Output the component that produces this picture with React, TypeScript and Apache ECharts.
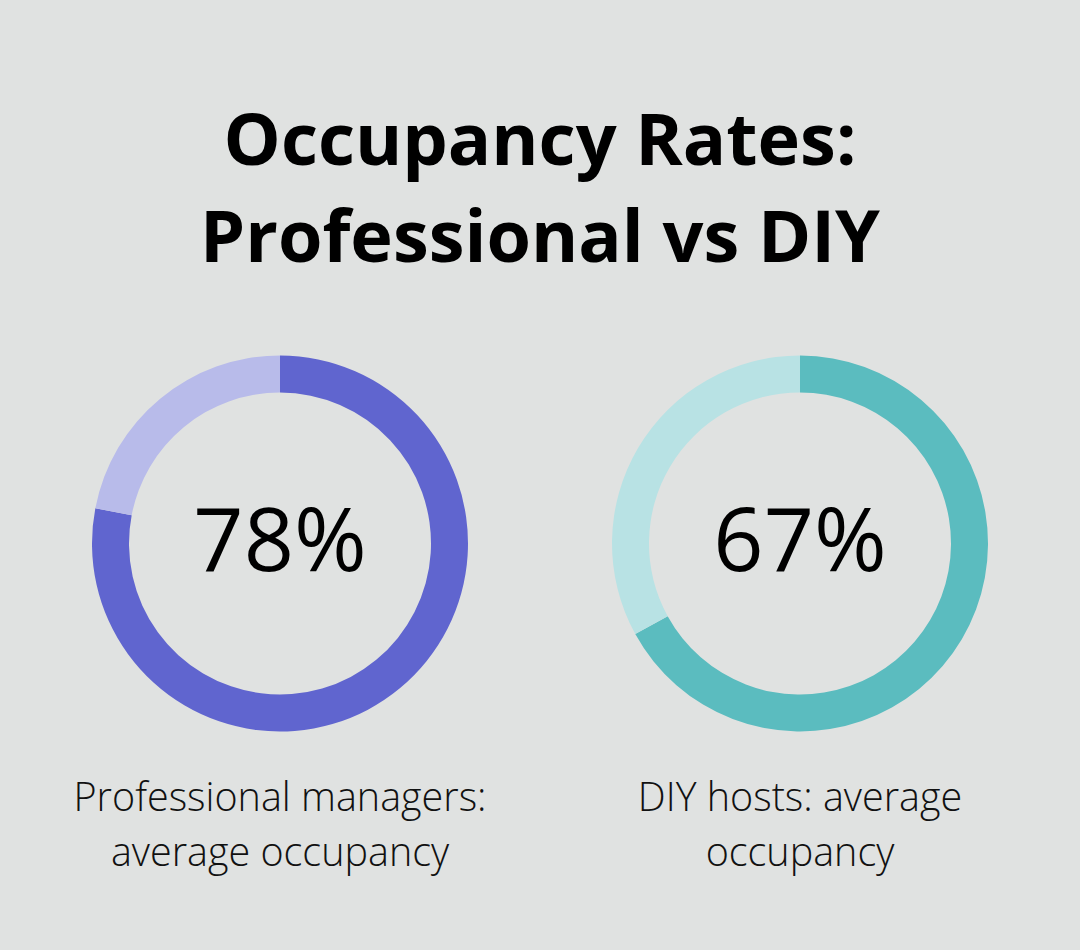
import React, { useEffect, useRef } from 'react';
import * as echarts from 'echarts';

const titleLines = ['Occupancy Rates:', 'Professional vs DIY'];
const groups = ['Professional managers', 'DIY hosts'];
const occupancy = [78, 67];
const captions = [
  ['Professional managers:', 'average occupancy'],
  ['DIY hosts: average', 'occupancy'],
];
const mainColors = ['#6065cf', '#5bbcbf'];
const restColors = ['#b8bbea', '#b8e2e4'];
const centersX = [280, 800];

const App: React.FC = () => {
  const chartRef = useRef<HTMLDivElement>(null);

  useEffect(() => {
    if (!chartRef.current) return;
    const chart = echarts.init(chartRef.current, undefined, { renderer: 'svg' });

    const textStyleBase = { fontFamily: 'Open Sans', fill: '#000', textAlign: 'center', textVerticalAlign: 'middle' };

    const graphic: any[] = [];
    titleLines.forEach((line, i) => {
      graphic.push({
        type: 'text',
        x: 540,
        y: 137 + i * 97,
        style: { ...textStyleBase, text: line, fontSize: 72, fontWeight: 'bold' },
      });
    });
    // big percentage in the middle of each ring
    occupancy.forEach((v, g) => {
      graphic.push({
        type: 'text',
        x: centersX[g],
        y: 537,
        style: { ...textStyleBase, text: `${v}%`, fontSize: 88 },
      });
    });
    captions.forEach((lines, g) => {
      lines.forEach((line, i) => {
        graphic.push({
          type: 'text',
          x: centersX[g],
          y: 796 + i * 55,
          style: { ...textStyleBase, text: line, fontSize: 39.5, fontWeight: 300, fill: '#111' },
        });
      });
    });

    const option: echarts.EChartsOption = {
      animation: false,
      backgroundColor: '#e0e2e1',
      graphic,
      series: groups.map((name, g) => ({
        name,
        type: 'pie',
        center: [centersX[g], 543.5],
        radius: [151, 188],
        startAngle: 90,
        clockwise: true,
        silent: true,
        label: { show: false },
        labelLine: { show: false },
        data: [
          { value: occupancy[g], name: 'Occupied', itemStyle: { color: mainColors[g] } },
          { value: 100 - occupancy[g], name: 'Vacant', itemStyle: { color: restColors[g] } },
        ],
      })) as any,
    };

    chart.setOption(option);
    return () => {
      chart.dispose();
    };
  }, []);

  return (
    <div
      ref={chartRef}
      style={{ position: 'fixed', left: 0, top: 0, width: 1080, height: 950 }}
    />
  );
};

export default App;
